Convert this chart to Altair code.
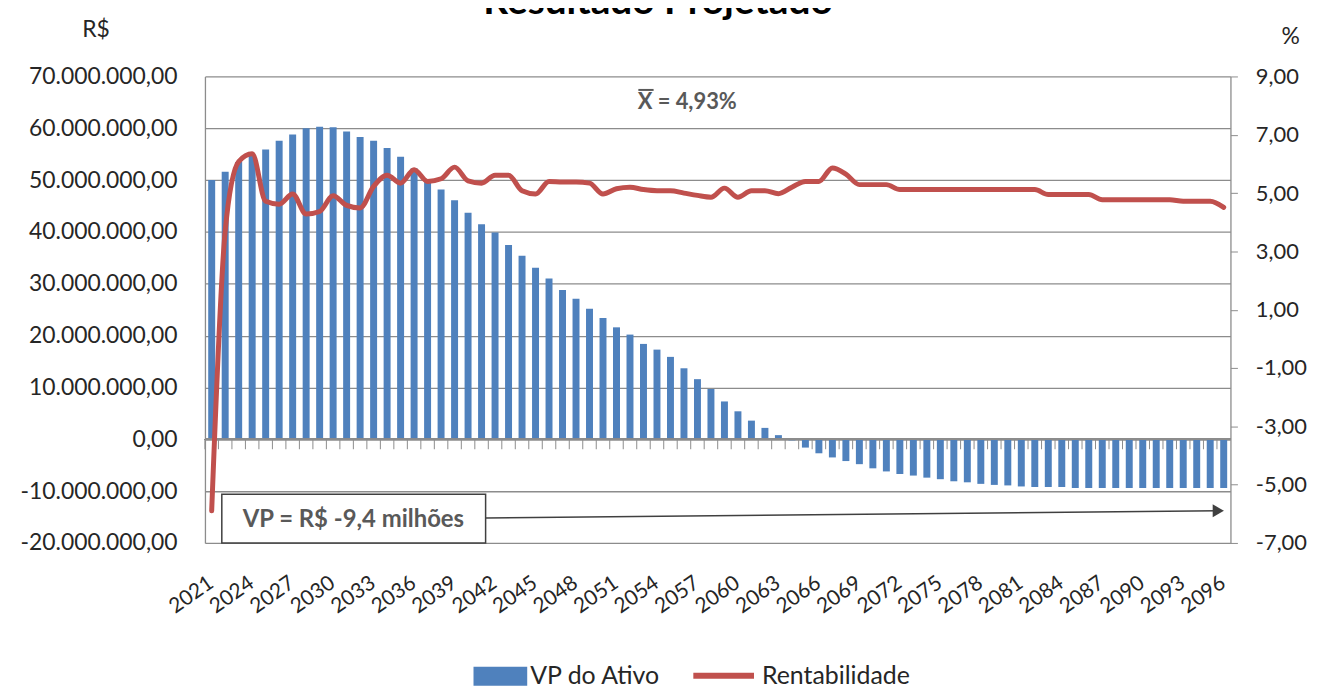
import altair as alt
import pandas as pd

# ---------------- data ----------------
anos = list(range(2021, 2097))
vp_milhoes = [
    50.0, 51.6, 53.5, 54.8, 55.9, 57.6, 58.8, 60.0, 60.3, 60.2,
    59.4, 58.3, 57.6, 56.2, 54.5, 52.3, 49.9, 48.2, 46.1, 43.7,
    41.5, 39.9, 37.5, 35.4, 33.1, 31.0, 28.8, 27.1, 25.2, 23.4,
    21.6, 20.2, 18.4, 17.3, 15.9, 13.7, 11.6, 9.7, 7.3, 5.4,
    3.6, 2.2, 0.8, -0.2, -1.6, -2.7, -3.5, -4.2, -4.8, -5.6,
    -6.2, -6.7, -7.0, -7.4, -7.7, -8.1, -8.3, -8.6, -8.8, -8.9,
    -9.1, -9.2, -9.2, -9.2, -9.4, -9.4, -9.4, -9.4, -9.4, -9.4,
    -9.4, -9.4, -9.4, -9.4, -9.4, -9.4,
]
rentabilidade = [
    -5.90, 3.70, 6.08, 6.35, 4.72, 4.62, 4.97, 4.28, 4.37, 4.91,
    4.58, 4.49, 5.23, 5.61, 5.34, 5.80, 5.40, 5.49, 5.89, 5.42,
    5.34, 5.61, 5.61, 5.08, 4.97, 5.40, 5.38, 5.38, 5.34, 4.97,
    5.15, 5.20, 5.12, 5.08, 5.08, 5.00, 4.92, 4.86, 5.17, 4.86,
    5.08, 5.08, 4.98, 5.20, 5.40, 5.40, 5.86, 5.65, 5.29, 5.29,
    5.29, 5.12, 5.12, 5.12, 5.12, 5.12, 5.12, 5.12, 5.12, 5.12,
    5.12, 5.12, 4.95, 4.95, 4.95, 4.95, 4.77, 4.77, 4.77, 4.77,
    4.77, 4.77, 4.72, 4.72, 4.72, 4.51,
]
anos_rotulo = anos[::3]
ticks_esquerda = [-20e6, -10e6, 0, 10e6, 20e6, 30e6, 40e6, 50e6, 60e6, 70e6]
ticks_direita = [-7, -5, -3, -1, 1, 3, 5, 7, 9]
series = ["VP do Ativo", "Rentabilidade"]
texto_media = ["X = 4,93%"]
texto_vp = ["VP = R$ -9,4 milhões"]
titulo = "Resultado Projetado"

df = pd.DataFrame({
    "ano": anos,
    "vp": [v * 1e6 for v in vp_milhoes],
    "rent": rentabilidade,
    "serie_vp": [series[0]] * len(anos),
    "serie_rent": [series[1]] * len(anos),
})

# ---------------- style ----------------
BLUE = "#4F81BD"
RED = "#C0504D"
GRID = "#8c8c8c"
TXT = "#262626"
ANN = "#595959"
DARK = "#404040"
FONT = "Lato"


def xs():
    return alt.Scale(domain=[2020.5, 2096.5], nice=False, zero=False, padding=0)


def ls():
    return alt.Scale(domain=[-20e6, 70e6], nice=False, zero=False, padding=0)


def rs():
    return alt.Scale(domain=[-7, 9], nice=False, zero=False, padding=0)


base = alt.Chart(df)

bars = base.mark_bar(size=7, orient="vertical").encode(
    x=alt.X("ano:Q", scale=xs(), axis=alt.Axis(
        values=anos_rotulo, format="d", labelAngle=-35, domain=False,
        ticks=False, grid=False, labelPadding=29, labelOffset=-7, title=None,
        labelOverlap=False, labelFlush=False,
        labelFont=FONT, labelFontSize=21, labelColor=TXT)),
    y=alt.Y("vp:Q", scale=ls(), axis=alt.Axis(
        orient="left", values=ticks_esquerda, format=",.2f", grid=True,
        gridColor=GRID, gridWidth=1.3, domain=True, domainColor=GRID,
        domainWidth=1.3, ticks=False, labelPadding=28,
        labelFont=FONT, labelFontSize=23, labelColor=TXT,
        title="R$", titleAngle=0, titleX=-110, titleY=-47,
        titleAlign="center", titleBaseline="middle", titleFont=FONT,
        titleFontSize=23, titleFontWeight="normal", titleColor=TXT)),
    fill=alt.Fill("serie_vp:N", scale=alt.Scale(domain=[series[0]], range=[BLUE]),
                  legend=alt.Legend(
                      orient="none", legendX=270, legendY=576,
                      title=None, direction="horizontal",
                      symbolType="M-1,-0.35H1V0.35H-1Z", symbolSize=2916,
                      symbolStrokeWidth=0, labelFont=FONT,
                      labelFontSize=25, labelColor=TXT, labelOffset=3)),
)

zero_line = base.mark_rule(color=GRID, strokeWidth=1.3).encode(
    y=alt.YDatum(0, scale=ls(), axis=None),
)

zero_ticks = base.transform_calculate(limite="datum.ano - 0.5").mark_rule(
    color=GRID, strokeWidth=1, y2Offset=10).encode(
    x=alt.X("limite:Q", scale=xs()),
    y=alt.YDatum(0, scale=ls(), axis=None),
    y2=alt.Y2Datum(0),
)

vp_df = pd.DataFrame({"t": texto_vp})
box = alt.Chart(vp_df).mark_rect(fill="white", stroke=DARK, strokeWidth=1.5).encode(
    x=alt.XDatum(2021.75, scale=xs()),
    x2=alt.X2Datum(2041.3),
    y=alt.YDatum(-10.6e6, scale=ls(), axis=None),
    y2=alt.Y2Datum(-20e6),
)
box_text = alt.Chart(vp_df).mark_text(
    font=FONT, fontSize=24, fontWeight="bold", color=ANN).encode(
    x=alt.XDatum(2031.5, scale=xs()),
    y=alt.YDatum(-15.5e6, scale=ls(), axis=None),
    text="t:N",
)
arrow = alt.Chart(vp_df).mark_rule(color=DARK, strokeWidth=1.5).encode(
    x=alt.XDatum(2041.3, scale=xs()),
    x2=alt.X2Datum(2095.6),
    y=alt.YDatum(-15.2e6, scale=ls(), axis=None),
    y2=alt.Y2Datum(-13.8e6),
)
arrow_head = alt.Chart(vp_df).mark_point(
    shape="triangle-right", filled=True, size=170, color=DARK, opacity=1).encode(
    x=alt.XDatum(2095.6, scale=xs()),
    y=alt.YDatum(-13.8e6, scale=ls(), axis=None),
)

media_df = pd.DataFrame({"t": texto_media})
mean_text = alt.Chart(media_df).mark_text(
    font=FONT, fontSize=22, fontWeight="bold", color=ANN, align="left").encode(
    x=alt.XDatum(2052.57, scale=xs()),
    y=alt.YDatum(65e6, scale=ls(), axis=None),
    text="t:N",
)
mean_bar = alt.Chart(media_df).mark_rule(color=ANN, strokeWidth=2).encode(
    x=alt.XDatum(2052.62, scale=xs()),
    x2=alt.X2Datum(2053.75),
    y=alt.YDatum(67.4e6, scale=ls(), axis=None),
)

line = base.mark_line(strokeWidth=5, interpolate="monotone",
                      strokeCap="round", strokeJoin="round").encode(
    x=alt.X("ano:Q", scale=xs()),
    y=alt.Y("rent:Q", scale=rs(), axis=alt.Axis(
        orient="right", values=ticks_direita, format=".2f", grid=False,
        domain=True, domainColor=GRID, domainWidth=1.3, ticks=True,
        tickSize=7, tickColor=GRID, labelPadding=18,
        labelFont=FONT, labelFontSize=22, labelColor=TXT,
        title="%", titleAngle=0, titleX=60, titleY=-40,
        titleAlign="center", titleBaseline="middle", titleFont=FONT,
        titleFontSize=23, titleFontWeight="normal", titleColor=TXT)),
    stroke=alt.Stroke("serie_rent:N", scale=alt.Scale(domain=[series[1]], range=[RED]),
                      legend=alt.Legend(
                          orient="none", legendX=488, legendY=569,
                          title=None, direction="horizontal",
                          symbolType="stroke", symbolSize=3721,
                          symbolStrokeWidth=6, labelFont=FONT,
                          labelFontSize=25, labelColor=TXT, labelOffset=5)),
)

chart = alt.layer(
    bars, zero_line, zero_ticks, box, arrow, arrow_head, box_text,
    mean_text, mean_bar, line,
).resolve_scale(y="independent").properties(
    width=1031,
    height=469,
    title=alt.Title(titulo, fontSize=39, font=FONT, fontWeight="bold",
                    color="black", offset=-3, frame="group", anchor="middle", dx=-60),
    autosize=alt.AutoSizeParams(type="none"),
    padding={"left": 198, "top": 67, "right": 84, "bottom": 144},
).configure(
    locale={"number": {"decimal": ",", "thousands": ".", "grouping": [3],
                       "currency": ["R$", ""], "minus": "-"}},
).configure_view(stroke=None)

chart.save("out.html", embed_options={"renderer": "svg", "actions": False})
